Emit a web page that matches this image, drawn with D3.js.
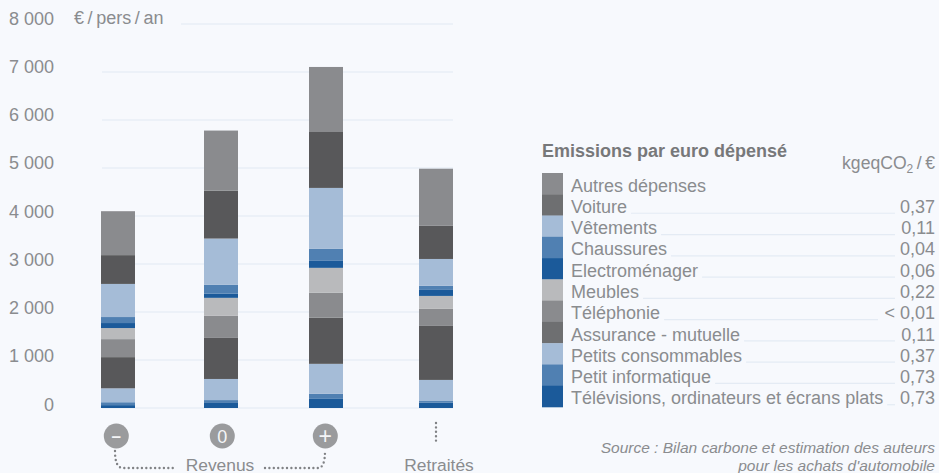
<!DOCTYPE html>
<html><head><meta charset="utf-8">
<script src="https://cdn.jsdelivr.net/npm/d3@7/dist/d3.min.js"></script>
<style>
html,body{margin:0;padding:0;background:#f7f9fd;}
svg{display:block;}
text{font-family:"Liberation Sans",Arial,sans-serif;fill:#8a8c8f;}
</style></head><body>
<svg id="c" width="939" height="473"></svg>
<script>
const groups = ["moins","zero","plus","retraites"];
const yTicks = [0,1000,2000,3000,4000,5000,6000,7000,8000];
const seriesNames = ["Télévisions, ordinateurs et écrans plats","Petit informatique","Petits consommables","Assurance - mutuelle","Téléphonie","Meubles","Electroménager","Chaussures","Vêtements","Voiture","Autres dépenses"];
const emissions = ["0,73","0,73","0,37","0,11","< 0,01","0,22","0,06","0,04","0,11","0,37",""];
const barColors = ["#1b5a9a","#5080b2","#a5bcd7","#58585a","#8a8b8e","#b9babc","#1b5a9a","#5080b2","#a5bcd7","#58585a","#8a8b8e"];
const legendColors = ["#1b5a9a","#5080b2","#a5bcd7","#6e6f71","#8a8b8e","#b9babc","#1b5a9a","#5080b2","#a5bcd7","#6e6f71","#8a8b8e"];
const revenusMoins = [60,60,290,650,375,230,105,125,690,600,915];
const revenusZero = [105,60,440,855,460,375,85,190,960,1000,1250];
const revenusPlus = [190,105,625,960,520,520,145,250,1270,1165,1355];
const retraites = [110,35,440,1125,355,270,125,85,560,690,1190];
const groupValues = [revenusMoins,revenusZero,revenusPlus,retraites];

const svg = d3.select("#c");
const y = d3.scaleLinear().domain([0,8000]).range([408,24]);
const yLabel = d3.scaleLinear().domain([0,8000]).range([410,24]);
const x = d3.scaleOrdinal().domain(groups).range([118,221,326,436]);
const xMarker = d3.scaleOrdinal().domain(groups).range([116.3,222.3,325.3,436]);
const barW = 34;
const fmt = v => d3.format(",")(v).replace(/,/g," ");

// grid
svg.append("g").selectAll("line").data(yTicks).join("line")
  .attr("x1",d=>d===8000?181:102).attr("x2",453)
  .attr("y1",d=>y(d)).attr("y2",d=>y(d))
  .attr("stroke","#e8eef6").attr("stroke-width",1.5);

// axis labels
const axis = d3.axisLeft(yLabel).tickValues(yTicks).tickFormat(fmt).tickSize(0).tickPadding(0);
const ag = svg.append("g").attr("transform","translate(54,0)").call(axis);
ag.select(".domain").remove();
ag.selectAll("text").attr("dy",0).attr("font-size",18).attr("font-family",null).style("fill","#8a8c8f");

svg.append("text").attr("x",74).attr("y",24).attr("font-size",18).text("€\u2009/\u2009pers\u2009/\u2009an");

// bars
const rows = groups.map((g,i)=>{const o={group:g};seriesNames.forEach((s,j)=>o[s]=groupValues[i][j]);return o;});
const stacked = d3.stack().keys(seriesNames)(rows);
svg.append("g").selectAll("g").data(stacked).join("g")
  .attr("fill",(d,i)=>barColors[i])
  .selectAll("rect").data(d=>d).join("rect")
  .attr("x",d=>x(d.data.group)-barW/2).attr("width",barW)
  .attr("y",d=>y(d[1])).attr("height",d=>y(d[0])-y(d[1]));

// group markers
const markers = [["moins","–"],["zero","0"],["plus","+"]];
const mk = svg.append("g").selectAll("g").data(markers).join("g")
  .attr("transform",d=>`translate(${xMarker(d[0])},436)`);
mk.append("circle").attr("r",12.5).attr("fill","#9a9b9d");
mk.append("text").attr("text-anchor","middle")
  .attr("y",d=>d[1]==="0"?6.5:d[1]==="+"?7.5:6)
  .attr("font-size",d=>d[1]==="0"?18:d[1]==="+"?23:17)
  .attr("font-weight",d=>d[1]==="–"?"bold":"normal")
  .style("fill","#f4f5f7").text(d=>d[1]);

// dotted connectors
const dotted = (p)=>svg.append("path").attr("d",p).attr("fill","none").attr("stroke","#808285")
  .attr("stroke-width",2.4).attr("stroke-linecap","round").attr("stroke-dasharray","0 4.4");
dotted("M115,451 Q115,468 123,468 L176,468");
dotted("M265,468 L318,468 Q325,468 325,451");
dotted("M436,423 L436,445");
svg.append("text").attr("x",220).attr("y",470.5).attr("text-anchor","middle").attr("font-size",17.4).text("Revenus");
svg.append("text").attr("x",439).attr("y",470.5).attr("text-anchor","middle").attr("font-size",17.4).text("Retraités");

// legend
svg.append("text").attr("x",542).attr("y",157).attr("font-size",18).attr("font-weight","bold")
  .style("fill","#77787a").text("Emissions par euro dépensé");
const unit = svg.append("text").attr("x",935).attr("y",169).attr("text-anchor","end").attr("font-size",17.6);
unit.append("tspan").text("kgeqCO");
unit.append("tspan").attr("font-size",12).attr("dy",4).text("2");
unit.append("tspan").attr("dy",-4).text("\u2009/\u2009€");

const legendOrder = seriesNames.slice().reverse();
const ly = d3.scaleBand().domain(legendOrder).range([173,407]);
const lg = svg.append("g").selectAll("g").data(legendOrder).join("g");
lg.append("rect").attr("x",542).attr("width",21).attr("y",d=>ly(d)).attr("height",ly.bandwidth()+0.3)
  .attr("fill",d=>legendColors[seriesNames.indexOf(d)]);
lg.append("text").attr("class","lab").attr("x",571).attr("y",d=>ly(d)+18.6).attr("font-size",18).text(d=>d);
lg.append("text").attr("x",935).attr("y",d=>ly(d)+18.6).attr("text-anchor","end").attr("font-size",18)
  .text(d=>emissions[seriesNames.indexOf(d)]);
lg.each(function(d){
  const e = emissions[seriesNames.indexOf(d)];
  if(!e) return;
  const g = d3.select(this);
  const w = g.select(".lab").node().getComputedTextLength();
  g.append("line").attr("x1",571+w+4).attr("x2",e.startsWith("<")?878:895)
    .attr("y1",ly(d)+19).attr("y2",ly(d)+19).attr("stroke","#e4ebf4").attr("stroke-width",1.2);
});

// source
const src = svg.append("g").attr("font-size",15.5).attr("font-style","italic");
src.append("text").attr("x",935).attr("y",453).attr("text-anchor","end").text("Source : Bilan carbone et estimation des auteurs");
src.append("text").attr("x",935).attr("y",470.5).attr("text-anchor","end").text("pour les achats d'automobile");
</script>
</body></html>
